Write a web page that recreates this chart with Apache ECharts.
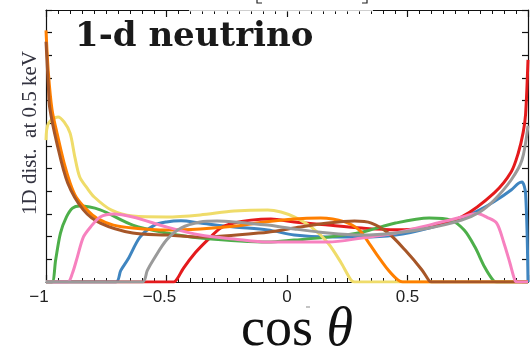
<!DOCTYPE html>
<html>
<head>
<meta charset="utf-8">
<script src="https://cdn.jsdelivr.net/npm/echarts@6/dist/echarts.min.js"></script>
<style>html,body{margin:0;padding:0;background:#fff}#c{width:531px;height:353px}</style>
</head>
<body>
<div id="c"></div>
<script>
// ---- data (x = cos θ, y = 1D distribution) ----
const red = [[-1,0],[-0.47,0],[-0.455,0.15],[-0.43,0.6],[-0.38,1.3],[-0.33,1.85],[-0.275,2.38],[-0.22,2.6],[-0.15,2.73],[-0.067,2.78],[0.03,2.65],[0.17,2.51],[0.31,2.38],[0.45,2.3],[0.59,2.43],[0.725,2.87],[0.86,3.93],[0.93,4.85],[0.96,5.7],[0.98,6.6],[0.99,7.4],[1.0,9.8]];
const blue = [[-1,0],[-0.71,0],[-0.69,0.5],[-0.66,1.0],[-0.61,1.98],[-0.55,2.51],[-0.5,2.65],[-0.44,2.7],[-0.36,2.6],[-0.22,2.43],[-0.08,2.3],[0.03,2.07],[0.17,1.98],[0.31,1.98],[0.45,2.07],[0.59,2.38],[0.725,2.82],[0.8,3.18],[0.86,3.55],[0.93,4.06],[0.96,4.35],[0.975,4.41],[0.99,3.9],[1.0,0]];
const green = [[-1,0],[-0.975,0],[-0.96,0.97],[-0.94,2.16],[-0.915,2.87],[-0.89,3.26],[-0.86,3.35],[-0.775,3.18],[-0.64,2.51],[-0.5,2.16],[-0.36,1.94],[-0.08,1.76],[0.03,1.85],[0.17,1.98],[0.31,2.2],[0.45,2.6],[0.59,2.82],[0.68,2.73],[0.735,2.29],[0.78,1.54],[0.82,0.66],[0.855,0.08],[0.87,0],[1,0]];
const pink = [[-1,0],[-0.91,0],[-0.89,0.4],[-0.87,1.1],[-0.845,1.98],[-0.815,2.43],[-0.775,2.87],[-0.72,3.0],[-0.64,2.87],[-0.5,2.43],[-0.36,2.07],[-0.22,1.9],[-0.08,1.76],[0.03,1.76],[0.17,1.76],[0.31,1.94],[0.45,2.16],[0.59,2.51],[0.725,2.87],[0.79,3.02],[0.83,2.85],[0.87,2.6],[0.9,1.72],[0.925,0.84],[0.945,0.1],[0.955,0],[1,0]];
const orange = [[-1,11.1],[-0.99,9.2],[-0.975,7.6],[-0.955,6.6],[-0.925,5.25],[-0.9,4.37],[-0.875,3.75],[-0.83,3.18],[-0.79,2.82],[-0.72,2.51],[-0.64,2.38],[-0.5,2.29],[-0.36,2.34],[-0.2,2.48],[-0.11,2.62],[0.03,2.78],[0.14,2.82],[0.24,2.65],[0.3,2.29],[0.34,1.72],[0.38,1.1],[0.42,0.53],[0.46,0.09],[0.48,0],[1,0]];
const yellow = [[-1,6.26],[-0.99,7.0],[-0.95,7.28],[-0.925,7.06],[-0.9,6.57],[-0.88,5.5],[-0.86,4.63],[-0.83,4.15],[-0.8,3.75],[-0.73,3.18],[-0.64,2.91],[-0.5,2.87],[-0.36,2.96],[-0.22,3.13],[-0.08,3.18],[-0.025,3.09],[0.03,2.87],[0.1,2.43],[0.17,1.72],[0.225,0.84],[0.265,0.09],[0.28,0],[1,0]];
const brown = [[-1,10.6],[-0.99,8.6],[-0.985,7.72],[-0.955,6.13],[-0.91,4.37],[-0.845,3.18],[-0.775,2.6],[-0.64,2.16],[-0.5,2.07],[-0.36,1.98],[-0.08,2.2],[0.03,2.38],[0.17,2.6],[0.28,2.69],[0.35,2.6],[0.42,2.16],[0.49,1.41],[0.56,0.53],[0.59,0.05],[0.6,0],[1,0]];
const grey = [[-1,0],[-0.6,0],[-0.58,0.5],[-0.555,0.97],[-0.5,1.85],[-0.44,2.38],[-0.36,2.65],[-0.29,2.69],[-0.22,2.65],[-0.08,2.51],[0.03,2.34],[0.17,2.16],[0.31,2.07],[0.45,2.16],[0.59,2.38],[0.725,2.73],[0.8,3.09],[0.86,3.62],[0.93,4.5],[0.975,5.38],[1.0,6.9]];
const xTickLabels = {'-1':'−1','-0.5':'−0.5','0':'0','0.5':'0.5','1':''};
const seriesNames = ['blue','red','green','yellow','orange','brown','pink','grey'];
const seriesData = {blue, red, green, yellow, orange, brown, pink, grey};
const colors = {red:'#e41a1c', blue:'#3f85c0', green:'#4daf4a', pink:'#f781bf', orange:'#ff7f00', yellow:'#efdc6a', brown:'#a65628', grey:'#9a9a9a'};
const xTitle = 'cos';
const xTitleVar = 'θ';
const yTitle = '1D dist.  at 0.5 keV';
const panelTitle = '1-d neutrino';

const chart = echarts.init(document.getElementById('c'), null, {renderer:'canvas'});
const axisLine = {show:true, onZero:false, lineStyle:{color:'#111', width:1.2}};
const xCommon = {type:'value', min:-1, max:1, interval:0.5, axisLine,
  axisTick:{show:true, inside:true, length:7, lineStyle:{color:'#111', width:1.2}},
  minorTick:{show:true, splitNumber:10, length:4, lineStyle:{color:'#111', width:1}},
  splitLine:{show:false}, minorSplitLine:{show:false}};
const yCommon = {type:'value', min:0, max:12, interval:1, axisLine,
  axisTick:{show:true, inside:true, length:6, lineStyle:{color:'#111', width:1.2}},
  axisLabel:{show:false}, splitLine:{show:false}};
chart.setOption({
  animation:false,
  backgroundColor:'#fff',
  grid:{left:46, right:2, top:10, bottom:71},
  xAxis:[
    Object.assign({}, xCommon, {position:'bottom',
      axisLabel:{show:true, margin:7, fontFamily:'Liberation Sans', fontSize:17, color:'#222',
        formatter: v => { const s = xTickLabels[String(v)]; if (s === undefined || s === '') return ''; return s.startsWith('−') ? '{n|' + s + '}' : s; },
        rich:{n:{fontFamily:'Liberation Sans', fontSize:17, color:'#222', padding:[0,14,0,0]}}}}),
    Object.assign({}, xCommon, {position:'top', axisLabel:{show:false}})
  ],
  yAxis:[
    Object.assign({}, yCommon, {position:'left'}),
    Object.assign({}, yCommon, {position:'right'})
  ],
  series: seriesNames.map(n => ({
    name:n, type:'line', data:seriesData[n], showSymbol:false, symbol:'none',
    smooth:0.3, lineStyle:{color:colors[n], width:3}, xAxisIndex:0, yAxisIndex:0, clip:true
  })),
  graphic:[
    {type:'rect', shape:{x:189, y:8.5, width:184, height:3}, style:{fill:'#fff', opacity:0.8}, z:100},
    {type:'polyline', shape:{points:[[257,0],[257,3],[262,3]]}, style:{stroke:'#222', lineWidth:1.2, fill:null}, z:100},
    {type:'polyline', shape:{points:[[362,3],[367,3],[367,0]]}, style:{stroke:'#222', lineWidth:1.2, fill:null}, z:100},
    {type:'text', x:75, y:37, z:100, style:{text:panelTitle, fontFamily:'DejaVu Serif', fontWeight:'bold', fontSize:34, fill:'#1a1a1a', verticalAlign:'middle', align:'left'}},
    {type:'text', x:30, y:133, rotation:Math.PI/2, z:100, style:{text:yTitle, fontFamily:'Liberation Serif', fontSize:21, fill:'#333340', verticalAlign:'middle', align:'center'}},
    {type:'text', x:297, y:331, z:100, style:{text:'{a|' + xTitle + ' }{b|' + xTitleVar + '}', align:'center', verticalAlign:'middle',
      rich:{a:{fontFamily:'Liberation Serif', fontSize:54, fill:'#111'}, b:{fontFamily:'Liberation Serif', fontStyle:'italic', fontSize:54, fill:'#111'}}}},
    {type:'rect', shape:{x:306, y:306.5, width:4, height:1}, style:{fill:'#888'}, z:100}
  ]
});
</script>
</body>
</html>
